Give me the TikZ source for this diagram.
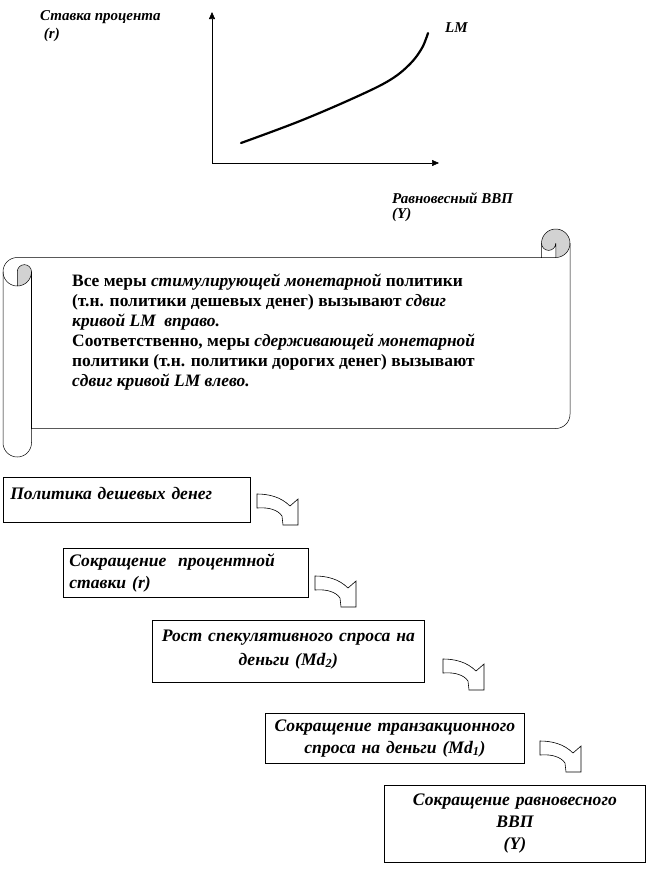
\documentclass[tikz,border=0pt]{standalone}
\usepackage{fontspec}
\setmainfont{Liberation Serif}
\usetikzlibrary{arrows.meta}
\tikzset{
  thinline/.style={line width=0.5pt},
  boxline/.style={draw, line width=0.8pt, inner xsep=6pt, inner ysep=3pt},
  boxtext/.style={font=\bfseries\itshape\fontsize{17.6}{22}\selectfont},
  lbl/.style={font=\bfseries\itshape\fontsize{15}{17}\selectfont, anchor=west, inner sep=0pt},
  axis/.style={line width=0.7pt, -{Triangle[length=7pt,width=6pt]}},
  roll/.style={fill=gray!35},
  bentarrow/.pic={\draw[line width=0.6pt, fill=white] (0,0) -- (0,14)
      .. controls (12,13) and (21,16) .. (25,22) -- (26,31) -- (41,31) -- (41,5) -- (33,12)
      .. controls (24,3) and (12,0) .. (0,0) -- cycle;}
}
\begin{document}
\begin{tikzpicture}[x=1pt,y=-1pt]
\useasboundingbox (0,0) rectangle (648,871);
% ---------- graph ----------
\coordinate (O) at (212,163);
\coordinate (ytip) at (212,12);
\coordinate (xtip) at (439,163);
\draw[axis] (O) -- (ytip);
\draw[axis, line width=0.5pt] (O) -- (xtip);
\draw[line width=2.2pt, line cap=round] plot[smooth, tension=0.6] coordinates
  {(241,143) (300,121) (356,97) (390,80) (410,64) (422,48) (428,33)};
\node[lbl] (ylab1) at (40,17) {Ставка процента};
\node[lbl] (ylab2) at (40,35) {\ (r)};
\node[lbl] (lm) at (445,28) {LM};
\node[lbl] (xlab1) at (392,198) {Равновесный ВВП};
\node[lbl] (xlab2) at (392,215) {(Y)};
% ---------- scroll ----------
\fill[white] (570,243.25) arc[start angle=0, delta angle=90, radius=14.25]
  -- (555.75,243.25) arc[start angle=0, delta angle=180, radius=7.125]
  -- (541.5,257.5) -- (17.25,257.5) arc[start angle=270, delta angle=-90, radius=14.25]
  -- (3,442.75) arc[start angle=180, delta angle=-180, radius=14.25]
  -- (31.5,428.5) -- (555.75,428.5) arc[start angle=90, delta angle=-90, radius=14.25] -- cycle;
\fill[roll] (555.75,243.25) circle[radius=14.25];
\fill[white] (555.75,257.5) -- (555.75,243.25) arc[start angle=0, delta angle=180, radius=7.125]
  -- (541.5,257.5) -- cycle;
\fill[roll] (17.25,286) arc[start angle=90, delta angle=-90, radius=14.25]
  arc[start angle=0, delta angle=-180, radius=7.125] -- cycle;
\draw[thinline] (3,271.75) arc[start angle=180, delta angle=90, radius=14.25]
  -- (541.5,257.5) -- (541.5,243.25) arc[start angle=180, delta angle=180, radius=14.25]
  -- (570,414.25) arc[start angle=0, delta angle=90, radius=14.25]
  -- (31.5,428.5) -- (31.5,442.75) arc[start angle=0, delta angle=180, radius=14.25] -- cycle;
\draw[thinline] (541.5,257.5) -- (555.75,257.5) arc[start angle=90, delta angle=-90, radius=14.25];
\draw[thinline] (555.75,257.5) -- (555.75,243.25) arc[start angle=0, delta angle=180, radius=7.125];
\draw[thinline] (17.25,286) -- (17.25,271.75) arc[start angle=180, delta angle=180, radius=7.125]
  arc[start angle=0, delta angle=180, radius=14.25];
\draw[thinline] (31.5,271.75) -- (31.5,428.5);
\node[anchor=north west, align=left, inner sep=0pt,
      font=\bfseries\fontsize{17.4}{20}\selectfont] (msg) at (72,274)
  {Все меры \textit{стимулирующей монетарной} политики\\
   (т.н. политики дешевых денег) вызывают \textit{сдвиг}\\
   \textit{кривой LM\ \ вправо.}\\
   Соответственно, меры \textit{сдерживающей монетарной}\\
   политики (т.н. политики дорогих денег) вызывают\\
   \textit{сдвиг кривой LM влево.}};
% ---------- chain ----------
\node[boxline, boxtext, thinline, anchor=north west, minimum width=247pt, minimum height=45pt,
      text width=233pt, align=left] (b1) at (3,477) {Политика дешевых денег\\[-10pt]\mbox{}};
\node[boxline, boxtext, anchor=north west, minimum width=245pt, minimum height=49pt,
      text width=233pt, align=left] (b2) at (63,548) {Сокращение\ \ процентной\\ ставки (r)};
\node[boxline, boxtext, anchor=north west, minimum width=272pt, minimum height=62pt,
      text width=258pt, align=center] (b3) at (152,620) {Рост спекулятивного спроса на\\[2pt] деньги (Md\textsubscript{2})\\[-14pt]\mbox{}};
\node[boxline, boxtext, anchor=north west, minimum width=259pt, minimum height=50pt,
      text width=245pt, align=center] (b4) at (265,713) {Сокращение транзакционного\\ спроса на деньги (Md\textsubscript{1})};
\node[boxline, boxtext, anchor=north west, minimum width=261pt, minimum height=77pt,
      text width=247pt, align=center] (b5) at (384,785) {Сокращение равновесного\\ ВВП\\ (Y)};
\pic at (257,494) {bentarrow};
\pic at (315,576) {bentarrow};
\pic at (443,659) {bentarrow};
\pic at (540,741) {bentarrow};
\end{tikzpicture}
\end{document}
